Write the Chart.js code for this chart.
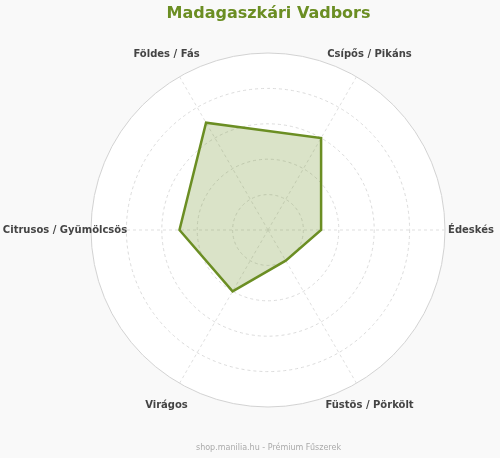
<!DOCTYPE html>
<html>
<head>
<meta charset="utf-8">
<script src="https://cdn.jsdelivr.net/npm/chart.js@4"></script>
<style>
    html, body { margin: 0; padding: 0; background: #f9f9f9; }
    #wrap { width: 500px; height: 458px; }
</style>
</head>
<body>
<div id="wrap"><canvas id="myChart"></canvas></div>
<script>
const labels = ['Csípős / Pikáns', 'Édeskés', 'Füstös / Pörkölt', 'Virágos', 'Citrusos / Gyümölcsös', 'Földes / Fás'];
const values = [6, 3, 2, 4, 5, 7];
const scaleMax = 10;
const scaleStep = 2;

const labelFont = 'bold 10px "DejaVu Sans"';
const labelGap = 26;

// point labels: centred on each spoke, just outside the outer ring
const pointLabelPlugin = {
    id: 'pointLabelPlugin',
    afterDraw(chart) {
        const scale = chart.scales.r;
        const c = chart.ctx;
        c.save();
        c.font = labelFont;
        c.fillStyle = '#444';
        c.textAlign = 'center';
        c.textBaseline = 'middle';
        labels.forEach((txt, i) => {
            const p = scale.getPointPosition(i, scale.drawingArea + labelGap);
            c.fillText(txt, p.x, p.y);
        });
        c.restore();
    }
};

const ctx = document.getElementById('myChart').getContext('2d');
const myChart = new Chart(ctx, {
    type: 'radar',
    data: {
        labels: labels,
        datasets: [{
            label: 'Madagaszkári Vadbors',
            data: values,
            backgroundColor: 'rgba(107, 142, 35, 0.25)',
            borderColor: '#6b8e23',
            borderWidth: 2.5,
            pointRadius: 0,
            pointHoverRadius: 0
        }]
    },
    plugins: [pointLabelPlugin],
    options: {
        responsive: true,
        maintainAspectRatio: false,
        animation: false,
        layout: { padding: { left: 37, right: 0, top: 0, bottom: 0 } },
        plugins: {
            legend: { display: false },
            tooltip: { enabled: false },
            title: {
                display: true,
                text: 'Madagaszkári Vadbors',
                color: '#6b8e23',
                font: { family: 'DejaVu Sans', size: 16, weight: 'bold' },
                padding: { top: 4, bottom: 29 }
            },
            subtitle: {
                display: true,
                position: 'bottom',
                text: 'shop.manilia.hu - Prémium Fűszerek',
                color: '#aaa',
                font: { family: 'DejaVu Sans', size: 8 },
                padding: { top: 35, bottom: 5.5 }
            }
        },
        scales: {
            r: {
                min: 0,
                max: scaleMax,
                startAngle: 30,
                backgroundColor: '#ffffff',
                ticks: { display: false, stepSize: scaleStep },
                pointLabels: { display: false },
                grid: {
                    circular: true,
                    color: (c) => c.index === 5 ? '#d2d2d2' : '#dcdcdc',
                    lineWidth: 1
                },
                border: {
                    dash: (c) => c.index === 5 ? [] : [3, 3]
                },
                angleLines: {
                    color: '#e0e0e0',
                    borderDash: [3, 3]
                }
            }
        }
    }
});
</script>
</body>
</html>
